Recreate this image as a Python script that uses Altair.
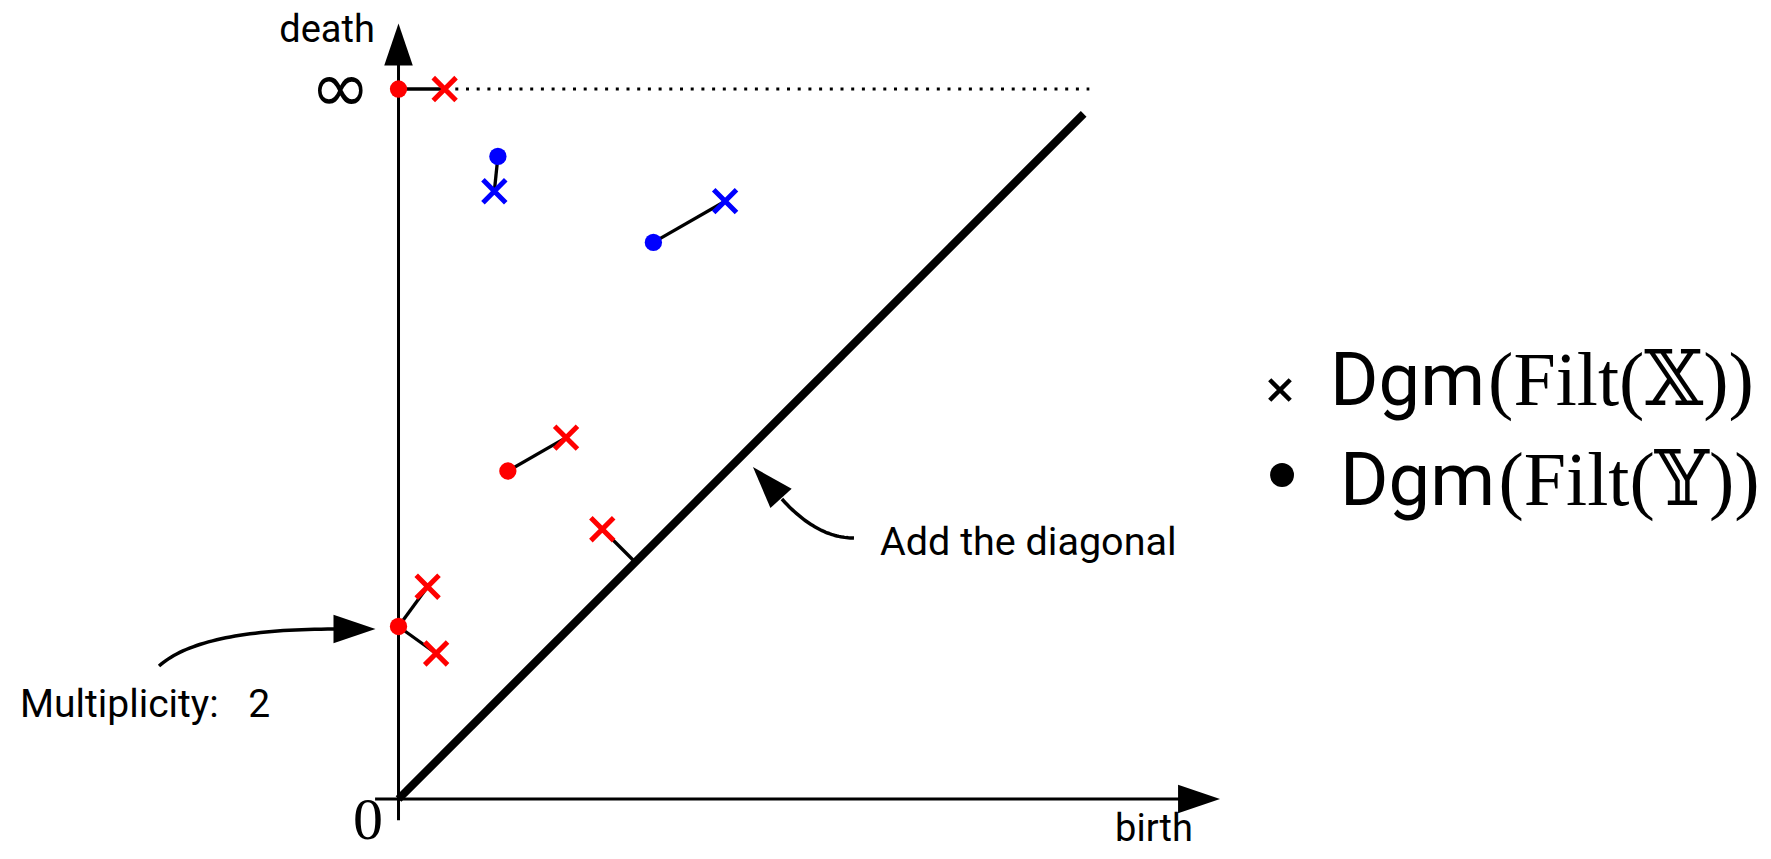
import altair as alt
import pandas as pd
import numpy as np

# ---------------- data (diagram units: death at infinity drawn at 10) ----------------
cross_birth = [0.65, 1.35, 4.60, 2.36, 2.87, 0.41, 0.53]
cross_death = [10.0, 8.56, 8.42, 5.09, 3.80, 2.99, 2.05]
cross_dim = ["H0", "H1", "H1", "H0", "H0", "H0", "H0"]

dot_birth = [0.0, 1.40, 3.59, 1.54, 0.0]
dot_death = [10.0, 9.05, 7.84, 4.62, 2.43]
dot_dim = ["H0", "H1", "H1", "H0", "H0"]

# matching: index of the matched dot for each cross (None = matched to the diagonal)
matching = [0, 1, 2, 3, None, 4, 4]

INF_LEVEL = 10.0
DIAG_END = 9.65

legend_labels_sans = ["Dgm", "Dgm"]
legend_labels_serif = ["(Filt(\U0001D54F))", "(Filt(\U0001D550))"]

# ---------------- layout constants ----------------
X_DOMAIN = [-5.5, 19.218]
Y_DOMAIN = [-0.732, 11.141]
W, H = 1755, 843

xs = alt.Scale(domain=X_DOMAIN, nice=False, zero=False)
ys = alt.Scale(domain=Y_DOMAIN, nice=False, zero=False)
color_scale = alt.Scale(domain=["H0", "H1"], range=["#ff0000", "#0000ff"])

XPATH = "M-1,-1L1,1M-1,1L1,-1"
HEAD = "M1,0L-1,0.68L-1,-0.68Z"


def X(f="x"):
    return alt.X(f"{f}:Q", scale=xs, axis=None)


def Y(f="y"):
    return alt.Y(f"{f}:Q", scale=ys, axis=None)


crosses = pd.DataFrame({"x": cross_birth, "y": cross_death, "dim": cross_dim})
dots = pd.DataFrame({"x": dot_birth, "y": dot_death, "dim": dot_dim})

rows = []
for i, m in enumerate(matching):
    b, d = cross_birth[i], cross_death[i]
    if m is None:
        p = (b + d) / 2
        rows.append({"x": b, "y": d, "x2": p, "y2": p})
    else:
        rows.append({"x": b, "y": d, "x2": dot_birth[m], "y2": dot_death[m]})
pairs = pd.DataFrame(rows)

# axes
axes_df = pd.DataFrame([
    {"x": 0.0, "y": -0.30, "x2": 0.0, "y2": 10.45},
    {"x": -0.33, "y": 0.0, "x2": 11.05, "y2": 0.0},
])
axes = alt.Chart(axes_df).mark_rule(color="black", strokeWidth=3).encode(
    x=X(), y=Y(), x2="x2:Q", y2="y2:Q")

heads_df = pd.DataFrame([
    {"x": 0.0, "y": 10.627, "angle": 270},
    {"x": 11.275, "y": 0.0, "angle": 0},
    {"x": -0.62, "y": 2.394, "angle": 0},
    {"x": 5.19, "y": 4.455, "angle": 228},
])
heads = alt.Chart(heads_df).mark_point(
    shape=HEAD, filled=True, color="black", size=1764, opacity=1, strokeWidth=0
).encode(x=X(), y=Y(), angle=alt.Angle("angle:Q", scale=None))

diag = alt.Chart(pd.DataFrame([{"x": 0.0, "y": 0.0, "x2": DIAG_END, "y2": DIAG_END}])).mark_rule(
    color="black", strokeWidth=8, strokeCap="butt").encode(x=X(), y=Y(), x2="x2:Q", y2="y2:Q")

dotted = alt.Chart(pd.DataFrame([{"x": 0.80, "y": INF_LEVEL, "x2": 9.73}])).mark_rule(
    color="black", strokeWidth=3, strokeDash=[3, 7.7]).encode(x=X(), y=Y(), x2="x2:Q")

links = alt.Chart(pairs).mark_rule(color="black", strokeWidth=3.3).encode(
    x=X(), y=Y(), x2="x2:Q", y2="y2:Q")

cross_layer = alt.Chart(crosses).mark_point(
    shape=XPATH, filled=False, size=520, strokeWidth=5, opacity=1
).encode(x=X(), y=Y(), color=alt.Color("dim:N", scale=color_scale, legend=None))

dot_layer = alt.Chart(dots).mark_circle(size=300, opacity=1).encode(
    x=X(), y=Y(), color=alt.Color("dim:N", scale=color_scale, legend=None))


def bezier(p0, p1, p2, n=40):
    t = np.linspace(0, 1, n)
    bx = (1 - t) ** 2 * p0[0] + 2 * (1 - t) * t * p1[0] + t ** 2 * p2[0]
    by = (1 - t) ** 2 * p0[1] + 2 * (1 - t) * t * p1[1] + t ** 2 * p2[1]
    return pd.DataFrame({"x": bx, "y": by, "t": t})


curve1 = alt.Chart(bezier((-3.373, 1.873), (-2.796, 2.394), (-0.90, 2.394))).mark_line(
    color="black", strokeWidth=3.5).encode(x=X(), y=Y(), order="t:Q")
curve2 = alt.Chart(bezier((6.415, 3.676), (5.894, 3.676), (5.40, 4.225))).mark_line(
    color="black", strokeWidth=3.5).encode(x=X(), y=Y(), order="t:Q")


def text_layer(rows_, font, size, align, baseline="alphabetic", color="black"):
    return alt.Chart(pd.DataFrame(rows_)).mark_text(
        font=font, fontSize=size, align=align, baseline=baseline, color=color
    ).encode(x=X(), y=Y(), text="text:N")


labels_sans = text_layer([
    {"x": -1.007, "y": 10.662, "text": "death"},
    {"x": 10.64, "y": -0.59, "text": "birth"},
], "Roboto", 38, "center")

mult = text_layer([{"x": -5.331, "y": 1.155, "text": "Multiplicity:\u2002 2"}], "Roboto", 39, "left")
addd = text_layer([{"x": 6.782, "y": 3.437, "text": "Add the diagonal"}], "Roboto", 39.5, "left")

zero = text_layer([{"x": -0.43, "y": -0.56, "text": "0"}], "Liberation Serif", 60, "center")
inf = text_layer([{"x": -0.82, "y": 9.98, "text": "\u221e"}], "DejaVu Sans", 72, "center", "middle")

leg_sans = text_layer([
    {"x": 13.120, "y": 5.549, "text": legend_labels_sans[0]},
    {"x": 13.261, "y": 4.141, "text": legend_labels_sans[1]},
], "Roboto", 74, "left")
leg_serif = text_layer([
    {"x": 19.09, "y": 5.549, "text": legend_labels_serif[0]},
    {"x": 19.17, "y": 4.141, "text": legend_labels_serif[1]},
], "Liberation Serif, DejaVu Serif", 76, "right")

leg_x = alt.Chart(pd.DataFrame([{"x": 12.415, "y": 5.761}])).mark_point(
    shape=XPATH, filled=False, size=420, strokeWidth=4.5, color="black", opacity=1
).encode(x=X(), y=Y())
leg_dot = alt.Chart(pd.DataFrame([{"x": 12.444, "y": 4.563}])).mark_circle(
    size=572, color="black", opacity=1).encode(x=X(), y=Y())

chart = alt.layer(
    dotted, axes, diag, links, curve1, curve2, heads,
    cross_layer, dot_layer,
    labels_sans, mult, addd, zero, inf, leg_sans, leg_serif, leg_x, leg_dot,
).properties(
    width=W, height=H, padding=0, autosize=alt.AutoSizeParams(type="none"),
    background="white",
).configure_view(stroke=None)

chart.save("out.html", embed_options={"renderer": "svg", "actions": False})
